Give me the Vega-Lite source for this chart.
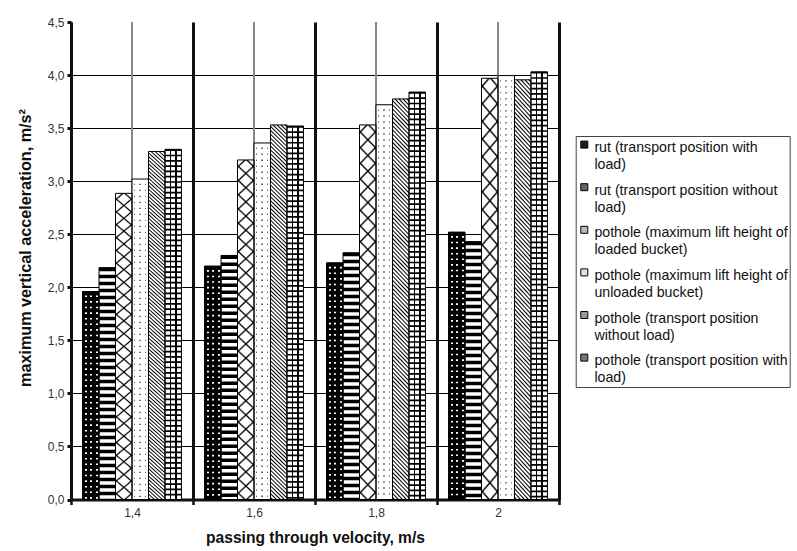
{
"$schema": "https://vega.github.io/schema/vega-lite/v6.json",
"width": 488, "height": 477.5,
"autosize": {"type": "none"},
"padding": {"left": 71, "top": 22, "right": 238, "bottom": 51.5},
"background": "white",
"config": {
  "font": "Liberation Sans",
  "view": {"stroke": null},
  "axis": {"labelFont": "Liberation Sans", "titleFont": "Liberation Sans", "titleFontSize": 15.6, "titleFontWeight": "bold", "titleColor": "#111", "labelFontSize": 12, "labelColor": "#333"}
},
"data": {"values": [
  {"v": "1,4", "s": "rut (transport position with load)", "a": 1.96},
  {"v": "1,4", "s": "rut (transport position without load)", "a": 2.185},
  {"v": "1,4", "s": "pothole (maximum lift height of loaded bucket)", "a": 2.885},
  {"v": "1,4", "s": "pothole (maximum lift height of unloaded bucket)", "a": 3.02},
  {"v": "1,4", "s": "pothole (transport position without load)", "a": 3.28},
  {"v": "1,4", "s": "pothole (transport position with load)", "a": 3.30},
  {"v": "1,6", "s": "rut (transport position with load)", "a": 2.20},
  {"v": "1,6", "s": "rut (transport position without load)", "a": 2.30},
  {"v": "1,6", "s": "pothole (maximum lift height of loaded bucket)", "a": 3.20},
  {"v": "1,6", "s": "pothole (maximum lift height of unloaded bucket)", "a": 3.36},
  {"v": "1,6", "s": "pothole (transport position without load)", "a": 3.53},
  {"v": "1,6", "s": "pothole (transport position with load)", "a": 3.52},
  {"v": "1,8", "s": "rut (transport position with load)", "a": 2.23},
  {"v": "1,8", "s": "rut (transport position without load)", "a": 2.325},
  {"v": "1,8", "s": "pothole (maximum lift height of loaded bucket)", "a": 3.53},
  {"v": "1,8", "s": "pothole (maximum lift height of unloaded bucket)", "a": 3.72},
  {"v": "1,8", "s": "pothole (transport position without load)", "a": 3.775},
  {"v": "1,8", "s": "pothole (transport position with load)", "a": 3.84},
  {"v": "2", "s": "rut (transport position with load)", "a": 2.52},
  {"v": "2", "s": "rut (transport position without load)", "a": 2.43},
  {"v": "2", "s": "pothole (maximum lift height of loaded bucket)", "a": 3.97},
  {"v": "2", "s": "pothole (maximum lift height of unloaded bucket)", "a": 3.995},
  {"v": "2", "s": "pothole (transport position without load)", "a": 3.955},
  {"v": "2", "s": "pothole (transport position with load)", "a": 4.03}
]},
"encoding": {
  "x": {"field": "v", "type": "nominal", "scale": {"paddingInner": 0, "paddingOuter": 0},
    "axis": {"title": "passing through velocity, m/s", "labelAngle": 0, "tickBand": "extent", "grid": true, "gridColor": "#111", "gridWidth": 3, "domainColor": "#111", "domainWidth": 3, "tickColor": "#111", "tickWidth": 2.5, "tickSize": 5, "labelPadding": 3, "titlePadding": 12}}
},
"layer": [
  {"mark": {"type": "rule", "color": "#888", "strokeWidth": 1}, "encoding": {}},
  {
    "encoding": {
      "xOffset": {"field": "s", "type": "nominal", "scale": {"domain": ["rut (transport position with load)", "rut (transport position without load)", "pothole (maximum lift height of loaded bucket)", "pothole (maximum lift height of unloaded bucket)", "pothole (transport position without load)", "pothole (transport position with load)"], "paddingInner": 0, "paddingOuter": 0.7}},
      "y": {"field": "a", "type": "quantitative", "scale": {"domain": [0, 4.5], "nice": false},
        "axis": {"title": "maximum vertical acceleration, m/s²", "titleFontSize": 16.2, "titleX": -46, "titleY": 225.5, "titleAngle": 270, "titleAlign": "center", "titleBaseline": "middle", "values": [0, 0.5, 1, 1.5, 2, 2.5, 3, 3.5, 4, 4.5], "labelExpr": "replace(format(datum.value, '.1f'), '.', ',')", "grid": true, "gridColor": "#000", "gridWidth": 1, "gridOpacity": {"condition": {"test": "datum.value > 4.4", "value": 0}, "value": 1}, "domainColor": "#111", "domainWidth": 3, "tickColor": "#111", "tickWidth": 3, "tickSize": 4, "labelPadding": 3}}
    },
    "layer": [
      {"mark": {"type": "bar"},
       "encoding": {"color": {"field": "s", "type": "nominal",
         "scale": {"domain": ["rut (transport position with load)", "rut (transport position without load)", "pothole (maximum lift height of loaded bucket)", "pothole (maximum lift height of unloaded bucket)", "pothole (transport position without load)", "pothole (transport position with load)"], "range": ["#1c1c1c", "#666", "#bbb", "#e0e0e0", "#999", "#777"]},
         "legend": {"title": null, "orient": "none", "legendX": 504.7, "legendY": 114, "direction": "vertical", "symbolType": "square", "symbolSize": 49, "symbolStrokeColor": "#000", "symbolStrokeWidth": 1, "symbolOpacity": 1, "labelFont": "Liberation Sans", "labelFontSize": 14.2, "labelColor": "#111", "labelLimit": 198, "labelOffset": 3, "rowPadding": 7.6, "padding": 1.5, "strokeColor": "#444", "fillColor": "#fff",
           "labelExpr": "datum.label == 'rut (transport position with load)' ? ['rut (transport position with', 'load)'] : datum.label == 'rut (transport position without load)' ? ['rut (transport position without', 'load)'] : datum.label == 'pothole (maximum lift height of loaded bucket)' ? ['pothole (maximum lift height of', 'loaded bucket)'] : datum.label == 'pothole (maximum lift height of unloaded bucket)' ? ['pothole (maximum lift height of', 'unloaded bucket)'] : datum.label == 'pothole (transport position without load)' ? ['pothole (transport position', 'without load)'] : ['pothole (transport position with', 'load)']",
           "encode": {"labels": {"update": {"dy": {"value": 3.5}, "lineHeight": {"value": 17}}}}}}}},
      {"mark": {"type": "bar", "fill": "#fff"}},
      {"transform": [{"filter": {"field": "s", "equal": "rut (transport position with load)"}}],
       "mark": {"type": "rule", "color": "#000", "strokeWidth": 16.4, "strokeDash": [4, 1.6]}, "encoding": {"y2": {"datum": 0}}},
      {"transform": [{"filter": {"field": "s", "equal": "rut (transport position with load)"}}],
       "mark": {"type": "bar", "fill": {"gradient": "linear", "x1": 0, "y1": 0, "x2": 1, "y2": 0, "stops": [
         {"offset": 0, "color": "#000"}, {"offset": 0.15, "color": "#000"}, {"offset": 0.15, "color": "transparent"}, {"offset": 0.25, "color": "transparent"},
         {"offset": 0.25, "color": "#000"}, {"offset": 0.48, "color": "#000"}, {"offset": 0.48, "color": "transparent"}, {"offset": 0.58, "color": "transparent"},
         {"offset": 0.58, "color": "#000"}, {"offset": 0.81, "color": "#000"}, {"offset": 0.81, "color": "transparent"}, {"offset": 0.91, "color": "transparent"},
         {"offset": 0.91, "color": "#000"}, {"offset": 1, "color": "#000"}]}}},
      {"transform": [{"filter": {"field": "s", "equal": "rut (transport position without load)"}}],
       "mark": {"type": "rule", "color": "#000", "strokeWidth": 16.4, "strokeDash": [3.5, 3.5]}, "encoding": {"y2": {"datum": 0}}},
      {"transform": [{"filter": {"field": "s", "equal": "pothole (maximum lift height of loaded bucket)"}}],
       "mark": {"type": "bar", "fill": {"gradient": "linear", "x1": 0, "y1": 0, "x2": 0.0476, "y2": 1.044, "stops": [
         {"offset": 0.015, "color": "transparent"}, {"offset": 0.02, "color": "#000"}, {"offset": 0.025, "color": "transparent"},
         {"offset": 0.055, "color": "transparent"}, {"offset": 0.06, "color": "#000"}, {"offset": 0.065, "color": "transparent"},
         {"offset": 0.095, "color": "transparent"}, {"offset": 0.1, "color": "#000"}, {"offset": 0.105, "color": "transparent"},
         {"offset": 0.135, "color": "transparent"}, {"offset": 0.14, "color": "#000"}, {"offset": 0.145, "color": "transparent"},
         {"offset": 0.175, "color": "transparent"}, {"offset": 0.18, "color": "#000"}, {"offset": 0.185, "color": "transparent"},
         {"offset": 0.215, "color": "transparent"}, {"offset": 0.22, "color": "#000"}, {"offset": 0.225, "color": "transparent"},
         {"offset": 0.255, "color": "transparent"}, {"offset": 0.26, "color": "#000"}, {"offset": 0.265, "color": "transparent"},
         {"offset": 0.295, "color": "transparent"}, {"offset": 0.3, "color": "#000"}, {"offset": 0.305, "color": "transparent"},
         {"offset": 0.335, "color": "transparent"}, {"offset": 0.34, "color": "#000"}, {"offset": 0.345, "color": "transparent"},
         {"offset": 0.375, "color": "transparent"}, {"offset": 0.38, "color": "#000"}, {"offset": 0.385, "color": "transparent"},
         {"offset": 0.415, "color": "transparent"}, {"offset": 0.42, "color": "#000"}, {"offset": 0.425, "color": "transparent"},
         {"offset": 0.455, "color": "transparent"}, {"offset": 0.46, "color": "#000"}, {"offset": 0.465, "color": "transparent"},
         {"offset": 0.495, "color": "transparent"}, {"offset": 0.5, "color": "#000"}, {"offset": 0.505, "color": "transparent"},
         {"offset": 0.535, "color": "transparent"}, {"offset": 0.54, "color": "#000"}, {"offset": 0.545, "color": "transparent"},
         {"offset": 0.575, "color": "transparent"}, {"offset": 0.58, "color": "#000"}, {"offset": 0.585, "color": "transparent"},
         {"offset": 0.615, "color": "transparent"}, {"offset": 0.62, "color": "#000"}, {"offset": 0.625, "color": "transparent"},
         {"offset": 0.655, "color": "transparent"}, {"offset": 0.66, "color": "#000"}, {"offset": 0.665, "color": "transparent"},
         {"offset": 0.695, "color": "transparent"}, {"offset": 0.7, "color": "#000"}, {"offset": 0.705, "color": "transparent"},
         {"offset": 0.735, "color": "transparent"}, {"offset": 0.74, "color": "#000"}, {"offset": 0.745, "color": "transparent"},
         {"offset": 0.775, "color": "transparent"}, {"offset": 0.78, "color": "#000"}, {"offset": 0.785, "color": "transparent"},
         {"offset": 0.815, "color": "transparent"}, {"offset": 0.82, "color": "#000"}, {"offset": 0.825, "color": "transparent"},
         {"offset": 0.855, "color": "transparent"}, {"offset": 0.86, "color": "#000"}, {"offset": 0.865, "color": "transparent"},
         {"offset": 0.895, "color": "transparent"}, {"offset": 0.9, "color": "#000"}, {"offset": 0.905, "color": "transparent"},
         {"offset": 0.935, "color": "transparent"}, {"offset": 0.94, "color": "#000"}, {"offset": 0.945, "color": "transparent"},
         {"offset": 0.975, "color": "transparent"}, {"offset": 0.98, "color": "#000"}, {"offset": 0.985, "color": "transparent"}]}}},
      {"transform": [{"filter": {"field": "s", "equal": "pothole (maximum lift height of loaded bucket)"}}],
       "mark": {"type": "bar", "fill": {"gradient": "linear", "x1": 0, "y1": 1, "x2": 0.0476, "y2": -0.044, "stops": [
         {"offset": 0.015, "color": "transparent"}, {"offset": 0.02, "color": "#000"}, {"offset": 0.025, "color": "transparent"},
         {"offset": 0.055, "color": "transparent"}, {"offset": 0.06, "color": "#000"}, {"offset": 0.065, "color": "transparent"},
         {"offset": 0.095, "color": "transparent"}, {"offset": 0.1, "color": "#000"}, {"offset": 0.105, "color": "transparent"},
         {"offset": 0.135, "color": "transparent"}, {"offset": 0.14, "color": "#000"}, {"offset": 0.145, "color": "transparent"},
         {"offset": 0.175, "color": "transparent"}, {"offset": 0.18, "color": "#000"}, {"offset": 0.185, "color": "transparent"},
         {"offset": 0.215, "color": "transparent"}, {"offset": 0.22, "color": "#000"}, {"offset": 0.225, "color": "transparent"},
         {"offset": 0.255, "color": "transparent"}, {"offset": 0.26, "color": "#000"}, {"offset": 0.265, "color": "transparent"},
         {"offset": 0.295, "color": "transparent"}, {"offset": 0.3, "color": "#000"}, {"offset": 0.305, "color": "transparent"},
         {"offset": 0.335, "color": "transparent"}, {"offset": 0.34, "color": "#000"}, {"offset": 0.345, "color": "transparent"},
         {"offset": 0.375, "color": "transparent"}, {"offset": 0.38, "color": "#000"}, {"offset": 0.385, "color": "transparent"},
         {"offset": 0.415, "color": "transparent"}, {"offset": 0.42, "color": "#000"}, {"offset": 0.425, "color": "transparent"},
         {"offset": 0.455, "color": "transparent"}, {"offset": 0.46, "color": "#000"}, {"offset": 0.465, "color": "transparent"},
         {"offset": 0.495, "color": "transparent"}, {"offset": 0.5, "color": "#000"}, {"offset": 0.505, "color": "transparent"},
         {"offset": 0.535, "color": "transparent"}, {"offset": 0.54, "color": "#000"}, {"offset": 0.545, "color": "transparent"},
         {"offset": 0.575, "color": "transparent"}, {"offset": 0.58, "color": "#000"}, {"offset": 0.585, "color": "transparent"},
         {"offset": 0.615, "color": "transparent"}, {"offset": 0.62, "color": "#000"}, {"offset": 0.625, "color": "transparent"},
         {"offset": 0.655, "color": "transparent"}, {"offset": 0.66, "color": "#000"}, {"offset": 0.665, "color": "transparent"},
         {"offset": 0.695, "color": "transparent"}, {"offset": 0.7, "color": "#000"}, {"offset": 0.705, "color": "transparent"},
         {"offset": 0.735, "color": "transparent"}, {"offset": 0.74, "color": "#000"}, {"offset": 0.745, "color": "transparent"},
         {"offset": 0.775, "color": "transparent"}, {"offset": 0.78, "color": "#000"}, {"offset": 0.785, "color": "transparent"},
         {"offset": 0.815, "color": "transparent"}, {"offset": 0.82, "color": "#000"}, {"offset": 0.825, "color": "transparent"},
         {"offset": 0.855, "color": "transparent"}, {"offset": 0.86, "color": "#000"}, {"offset": 0.865, "color": "transparent"},
         {"offset": 0.895, "color": "transparent"}, {"offset": 0.9, "color": "#000"}, {"offset": 0.905, "color": "transparent"},
         {"offset": 0.935, "color": "transparent"}, {"offset": 0.94, "color": "#000"}, {"offset": 0.945, "color": "transparent"},
         {"offset": 0.975, "color": "transparent"}, {"offset": 0.98, "color": "#000"}, {"offset": 0.985, "color": "transparent"}]}}},
      {"transform": [{"filter": {"field": "s", "equal": "pothole (maximum lift height of unloaded bucket)"}}],
       "mark": {"type": "bar", "fill": "#707070"}},
      {"transform": [{"filter": {"field": "s", "equal": "pothole (maximum lift height of unloaded bucket)"}}],
       "mark": {"type": "rule", "color": "#fff", "strokeWidth": 16.4, "strokeDash": [4.6, 1.4]}, "encoding": {"y2": {"datum": 0}}},
      {"transform": [{"filter": {"field": "s", "equal": "pothole (maximum lift height of unloaded bucket)"}}],
       "mark": {"type": "bar", "fill": {"gradient": "linear", "x1": 0, "y1": 0, "x2": 1, "y2": 0, "stops": [
         {"offset": 0, "color": "#fff"}, {"offset": 0.12, "color": "#fff"}, {"offset": 0.12, "color": "transparent"}, {"offset": 0.205, "color": "transparent"},
         {"offset": 0.205, "color": "#fff"}, {"offset": 0.45, "color": "#fff"}, {"offset": 0.45, "color": "transparent"}, {"offset": 0.535, "color": "transparent"},
         {"offset": 0.535, "color": "#fff"}, {"offset": 0.78, "color": "#fff"}, {"offset": 0.78, "color": "transparent"}, {"offset": 0.865, "color": "transparent"},
         {"offset": 0.865, "color": "#fff"}, {"offset": 1, "color": "#fff"}]}}},
      {"transform": [{"filter": {"field": "s", "equal": "pothole (transport position without load)"}}],
       "mark": {"type": "bar", "fill": {"gradient": "linear", "x1": 0, "y1": 1, "x2": 0.0447, "y2": -0.041, "stops": [
{"offset":0.0015,"color":"#fff"},{"offset":0.005,"color":"#000"},{"offset":0.0085,"color":"#fff"},
{"offset":0.0115,"color":"#fff"},{"offset":0.015,"color":"#000"},{"offset":0.0185,"color":"#fff"},
{"offset":0.0215,"color":"#fff"},{"offset":0.025,"color":"#000"},{"offset":0.0285,"color":"#fff"},
{"offset":0.0315,"color":"#fff"},{"offset":0.035,"color":"#000"},{"offset":0.0385,"color":"#fff"},
{"offset":0.0415,"color":"#fff"},{"offset":0.045,"color":"#000"},{"offset":0.0485,"color":"#fff"},
{"offset":0.0515,"color":"#fff"},{"offset":0.055,"color":"#000"},{"offset":0.0585,"color":"#fff"},
{"offset":0.0615,"color":"#fff"},{"offset":0.065,"color":"#000"},{"offset":0.0685,"color":"#fff"},
{"offset":0.0715,"color":"#fff"},{"offset":0.075,"color":"#000"},{"offset":0.0785,"color":"#fff"},
{"offset":0.0815,"color":"#fff"},{"offset":0.085,"color":"#000"},{"offset":0.0885,"color":"#fff"},
{"offset":0.0915,"color":"#fff"},{"offset":0.095,"color":"#000"},{"offset":0.0985,"color":"#fff"},
{"offset":0.1015,"color":"#fff"},{"offset":0.105,"color":"#000"},{"offset":0.1085,"color":"#fff"},
{"offset":0.1115,"color":"#fff"},{"offset":0.115,"color":"#000"},{"offset":0.1185,"color":"#fff"},
{"offset":0.1215,"color":"#fff"},{"offset":0.125,"color":"#000"},{"offset":0.1285,"color":"#fff"},
{"offset":0.1315,"color":"#fff"},{"offset":0.135,"color":"#000"},{"offset":0.1385,"color":"#fff"},
{"offset":0.1415,"color":"#fff"},{"offset":0.145,"color":"#000"},{"offset":0.1485,"color":"#fff"},
{"offset":0.1515,"color":"#fff"},{"offset":0.155,"color":"#000"},{"offset":0.1585,"color":"#fff"},
{"offset":0.1615,"color":"#fff"},{"offset":0.165,"color":"#000"},{"offset":0.1685,"color":"#fff"},
{"offset":0.1715,"color":"#fff"},{"offset":0.175,"color":"#000"},{"offset":0.1785,"color":"#fff"},
{"offset":0.1815,"color":"#fff"},{"offset":0.185,"color":"#000"},{"offset":0.1885,"color":"#fff"},
{"offset":0.1915,"color":"#fff"},{"offset":0.195,"color":"#000"},{"offset":0.1985,"color":"#fff"},
{"offset":0.2015,"color":"#fff"},{"offset":0.205,"color":"#000"},{"offset":0.2085,"color":"#fff"},
{"offset":0.2115,"color":"#fff"},{"offset":0.215,"color":"#000"},{"offset":0.2185,"color":"#fff"},
{"offset":0.2215,"color":"#fff"},{"offset":0.225,"color":"#000"},{"offset":0.2285,"color":"#fff"},
{"offset":0.2315,"color":"#fff"},{"offset":0.235,"color":"#000"},{"offset":0.2385,"color":"#fff"},
{"offset":0.2415,"color":"#fff"},{"offset":0.245,"color":"#000"},{"offset":0.2485,"color":"#fff"},
{"offset":0.2515,"color":"#fff"},{"offset":0.255,"color":"#000"},{"offset":0.2585,"color":"#fff"},
{"offset":0.2615,"color":"#fff"},{"offset":0.265,"color":"#000"},{"offset":0.2685,"color":"#fff"},
{"offset":0.2715,"color":"#fff"},{"offset":0.275,"color":"#000"},{"offset":0.2785,"color":"#fff"},
{"offset":0.2815,"color":"#fff"},{"offset":0.285,"color":"#000"},{"offset":0.2885,"color":"#fff"},
{"offset":0.2915,"color":"#fff"},{"offset":0.295,"color":"#000"},{"offset":0.2985,"color":"#fff"},
{"offset":0.3015,"color":"#fff"},{"offset":0.305,"color":"#000"},{"offset":0.3085,"color":"#fff"},
{"offset":0.3115,"color":"#fff"},{"offset":0.315,"color":"#000"},{"offset":0.3185,"color":"#fff"},
{"offset":0.3215,"color":"#fff"},{"offset":0.325,"color":"#000"},{"offset":0.3285,"color":"#fff"},
{"offset":0.3315,"color":"#fff"},{"offset":0.335,"color":"#000"},{"offset":0.3385,"color":"#fff"},
{"offset":0.3415,"color":"#fff"},{"offset":0.345,"color":"#000"},{"offset":0.3485,"color":"#fff"},
{"offset":0.3515,"color":"#fff"},{"offset":0.355,"color":"#000"},{"offset":0.3585,"color":"#fff"},
{"offset":0.3615,"color":"#fff"},{"offset":0.365,"color":"#000"},{"offset":0.3685,"color":"#fff"},
{"offset":0.3715,"color":"#fff"},{"offset":0.375,"color":"#000"},{"offset":0.3785,"color":"#fff"},
{"offset":0.3815,"color":"#fff"},{"offset":0.385,"color":"#000"},{"offset":0.3885,"color":"#fff"},
{"offset":0.3915,"color":"#fff"},{"offset":0.395,"color":"#000"},{"offset":0.3985,"color":"#fff"},
{"offset":0.4015,"color":"#fff"},{"offset":0.405,"color":"#000"},{"offset":0.4085,"color":"#fff"},
{"offset":0.4115,"color":"#fff"},{"offset":0.415,"color":"#000"},{"offset":0.4185,"color":"#fff"},
{"offset":0.4215,"color":"#fff"},{"offset":0.425,"color":"#000"},{"offset":0.4285,"color":"#fff"},
{"offset":0.4315,"color":"#fff"},{"offset":0.435,"color":"#000"},{"offset":0.4385,"color":"#fff"},
{"offset":0.4415,"color":"#fff"},{"offset":0.445,"color":"#000"},{"offset":0.4485,"color":"#fff"},
{"offset":0.4515,"color":"#fff"},{"offset":0.455,"color":"#000"},{"offset":0.4585,"color":"#fff"},
{"offset":0.4615,"color":"#fff"},{"offset":0.465,"color":"#000"},{"offset":0.4685,"color":"#fff"},
{"offset":0.4715,"color":"#fff"},{"offset":0.475,"color":"#000"},{"offset":0.4785,"color":"#fff"},
{"offset":0.4815,"color":"#fff"},{"offset":0.485,"color":"#000"},{"offset":0.4885,"color":"#fff"},
{"offset":0.4915,"color":"#fff"},{"offset":0.495,"color":"#000"},{"offset":0.4985,"color":"#fff"},
{"offset":0.5015,"color":"#fff"},{"offset":0.505,"color":"#000"},{"offset":0.5085,"color":"#fff"},
{"offset":0.5115,"color":"#fff"},{"offset":0.515,"color":"#000"},{"offset":0.5185,"color":"#fff"},
{"offset":0.5215,"color":"#fff"},{"offset":0.525,"color":"#000"},{"offset":0.5285,"color":"#fff"},
{"offset":0.5315,"color":"#fff"},{"offset":0.535,"color":"#000"},{"offset":0.5385,"color":"#fff"},
{"offset":0.5415,"color":"#fff"},{"offset":0.545,"color":"#000"},{"offset":0.5485,"color":"#fff"},
{"offset":0.5515,"color":"#fff"},{"offset":0.555,"color":"#000"},{"offset":0.5585,"color":"#fff"},
{"offset":0.5615,"color":"#fff"},{"offset":0.565,"color":"#000"},{"offset":0.5685,"color":"#fff"},
{"offset":0.5715,"color":"#fff"},{"offset":0.575,"color":"#000"},{"offset":0.5785,"color":"#fff"},
{"offset":0.5815,"color":"#fff"},{"offset":0.585,"color":"#000"},{"offset":0.5885,"color":"#fff"},
{"offset":0.5915,"color":"#fff"},{"offset":0.595,"color":"#000"},{"offset":0.5985,"color":"#fff"},
{"offset":0.6015,"color":"#fff"},{"offset":0.605,"color":"#000"},{"offset":0.6085,"color":"#fff"},
{"offset":0.6115,"color":"#fff"},{"offset":0.615,"color":"#000"},{"offset":0.6185,"color":"#fff"},
{"offset":0.6215,"color":"#fff"},{"offset":0.625,"color":"#000"},{"offset":0.6285,"color":"#fff"},
{"offset":0.6315,"color":"#fff"},{"offset":0.635,"color":"#000"},{"offset":0.6385,"color":"#fff"},
{"offset":0.6415,"color":"#fff"},{"offset":0.645,"color":"#000"},{"offset":0.6485,"color":"#fff"},
{"offset":0.6515,"color":"#fff"},{"offset":0.655,"color":"#000"},{"offset":0.6585,"color":"#fff"},
{"offset":0.6615,"color":"#fff"},{"offset":0.665,"color":"#000"},{"offset":0.6685,"color":"#fff"},
{"offset":0.6715,"color":"#fff"},{"offset":0.675,"color":"#000"},{"offset":0.6785,"color":"#fff"},
{"offset":0.6815,"color":"#fff"},{"offset":0.685,"color":"#000"},{"offset":0.6885,"color":"#fff"},
{"offset":0.6915,"color":"#fff"},{"offset":0.695,"color":"#000"},{"offset":0.6985,"color":"#fff"},
{"offset":0.7015,"color":"#fff"},{"offset":0.705,"color":"#000"},{"offset":0.7085,"color":"#fff"},
{"offset":0.7115,"color":"#fff"},{"offset":0.715,"color":"#000"},{"offset":0.7185,"color":"#fff"},
{"offset":0.7215,"color":"#fff"},{"offset":0.725,"color":"#000"},{"offset":0.7285,"color":"#fff"},
{"offset":0.7315,"color":"#fff"},{"offset":0.735,"color":"#000"},{"offset":0.7385,"color":"#fff"},
{"offset":0.7415,"color":"#fff"},{"offset":0.745,"color":"#000"},{"offset":0.7485,"color":"#fff"},
{"offset":0.7515,"color":"#fff"},{"offset":0.755,"color":"#000"},{"offset":0.7585,"color":"#fff"},
{"offset":0.7615,"color":"#fff"},{"offset":0.765,"color":"#000"},{"offset":0.7685,"color":"#fff"},
{"offset":0.7715,"color":"#fff"},{"offset":0.775,"color":"#000"},{"offset":0.7785,"color":"#fff"},
{"offset":0.7815,"color":"#fff"},{"offset":0.785,"color":"#000"},{"offset":0.7885,"color":"#fff"},
{"offset":0.7915,"color":"#fff"},{"offset":0.795,"color":"#000"},{"offset":0.7985,"color":"#fff"},
{"offset":0.8015,"color":"#fff"},{"offset":0.805,"color":"#000"},{"offset":0.8085,"color":"#fff"},
{"offset":0.8115,"color":"#fff"},{"offset":0.815,"color":"#000"},{"offset":0.8185,"color":"#fff"},
{"offset":0.8215,"color":"#fff"},{"offset":0.825,"color":"#000"},{"offset":0.8285,"color":"#fff"},
{"offset":0.8315,"color":"#fff"},{"offset":0.835,"color":"#000"},{"offset":0.8385,"color":"#fff"},
{"offset":0.8415,"color":"#fff"},{"offset":0.845,"color":"#000"},{"offset":0.8485,"color":"#fff"},
{"offset":0.8515,"color":"#fff"},{"offset":0.855,"color":"#000"},{"offset":0.8585,"color":"#fff"},
{"offset":0.8615,"color":"#fff"},{"offset":0.865,"color":"#000"},{"offset":0.8685,"color":"#fff"},
{"offset":0.8715,"color":"#fff"},{"offset":0.875,"color":"#000"},{"offset":0.8785,"color":"#fff"},
{"offset":0.8815,"color":"#fff"},{"offset":0.885,"color":"#000"},{"offset":0.8885,"color":"#fff"},
{"offset":0.8915,"color":"#fff"},{"offset":0.895,"color":"#000"},{"offset":0.8985,"color":"#fff"},
{"offset":0.9015,"color":"#fff"},{"offset":0.905,"color":"#000"},{"offset":0.9085,"color":"#fff"},
{"offset":0.9115,"color":"#fff"},{"offset":0.915,"color":"#000"},{"offset":0.9185,"color":"#fff"},
{"offset":0.9215,"color":"#fff"},{"offset":0.925,"color":"#000"},{"offset":0.9285,"color":"#fff"},
{"offset":0.9315,"color":"#fff"},{"offset":0.935,"color":"#000"},{"offset":0.9385,"color":"#fff"},
{"offset":0.9415,"color":"#fff"},{"offset":0.945,"color":"#000"},{"offset":0.9485,"color":"#fff"},
{"offset":0.9515,"color":"#fff"},{"offset":0.955,"color":"#000"},{"offset":0.9585,"color":"#fff"},
{"offset":0.9615,"color":"#fff"},{"offset":0.965,"color":"#000"},{"offset":0.9685,"color":"#fff"},
{"offset":0.9715,"color":"#fff"},{"offset":0.975,"color":"#000"},{"offset":0.9785,"color":"#fff"},
{"offset":0.9815,"color":"#fff"},{"offset":0.985,"color":"#000"},{"offset":0.9885,"color":"#fff"},
{"offset":0.9915,"color":"#fff"},{"offset":0.995,"color":"#000"},{"offset":0.9985,"color":"#fff"}]}}},
      {"transform": [{"filter": {"field": "s", "equal": "pothole (transport position with load)"}}],
       "mark": {"type": "rule", "color": "#000", "strokeWidth": 16.4, "strokeDash": [1.7, 3.6]}, "encoding": {"y2": {"datum": 0}}},
      {"transform": [{"filter": {"field": "s", "equal": "pothole (transport position with load)"}}],
       "mark": {"type": "bar", "fill": {"gradient": "linear", "x1": 0, "y1": 0, "x2": 1, "y2": 0, "stops": [
         {"offset": 0, "color": "transparent"}, {"offset": 0.283, "color": "transparent"}, {"offset": 0.283, "color": "#000"}, {"offset": 0.383, "color": "#000"},
         {"offset": 0.383, "color": "transparent"}, {"offset": 0.617, "color": "transparent"}, {"offset": 0.617, "color": "#000"}, {"offset": 0.717, "color": "#000"},
         {"offset": 0.717, "color": "transparent"}, {"offset": 1, "color": "transparent"}]}}},
      {"mark": {"type": "bar", "fillOpacity": 0, "stroke": "#000", "strokeWidth": 1}}
    ]
  }
]
}
